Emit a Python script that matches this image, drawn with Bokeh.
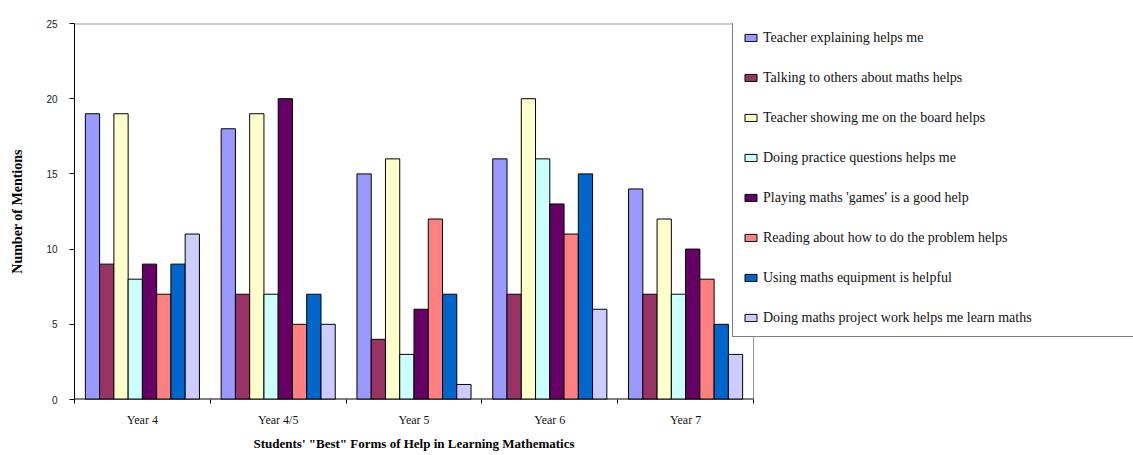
from bokeh.plotting import figure
from bokeh.models import (Range1d, FixedTicker, Legend, LegendItem, ColumnDataSource,
                          CustomJSTickFormatter, Title)
from bokeh.transform import dodge
from bokeh.embed import file_html
from bokeh.resources import INLINE

years = ["Year 4", "Year 4/5", "Year 5", "Year 6", "Year 7"]
series_names = [
    "Teacher explaining helps me",
    "Talking to others about maths helps",
    "Teacher showing me on the board helps",
    "Doing practice questions helps me",
    "Playing maths 'games' is a good help",
    "Reading about how to do the problem helps",
    "Using maths equipment is helpful",
    "Doing maths project work helps me learn maths",
]
teacher_explaining = [19, 18, 15, 16, 14]
talking_to_others = [9, 7, 4, 7, 7]
teacher_board = [19, 19, 16, 20, 12]
practice_questions = [8, 7, 3, 16, 7]
maths_games = [9, 20, 6, 13, 10]
reading_problem = [7, 5, 12, 11, 8]
maths_equipment = [9, 7, 7, 15, 5]
project_work = [11, 5, 1, 6, 3]
colors = ["#9999FF", "#993366", "#FFFFCC", "#CCFFFF", "#660066", "#FF8080", "#0066CC", "#CCCCFF"]
y_ticks = [0, 5, 10, 15, 20, 25]
y_max = 25

series_values = [teacher_explaining, talking_to_others, teacher_board, practice_questions,
                 maths_games, reading_problem, maths_equipment, project_work]

n_cat = len(years)
xc = [i + 0.5 for i in range(n_cat)]
data = {"xc": xc}
for j, vals in enumerate(series_values):
    data[f"s{j}"] = vals
source = ColumnDataSource(data)

# layout (pixels)
W, H = 1133, 455
left, top, bottom = 74, 23, 55
plot_right = 753          # right edge of the visible plot area
frame_w = W - left
x_end = n_cat * frame_w / (plot_right - left)

p = figure(width=W, height=H,
           min_border_left=left, min_border_top=top, min_border_right=0, min_border_bottom=bottom,
           x_range=Range1d(0, x_end), y_range=Range1d(0, y_max),
           output_backend="svg", toolbar_location=None,
           background_fill_color="white", border_fill_color="white")

bw = 0.105
n = len(series_values)
items = []
for j in range(n):
    r = p.vbar(x=dodge("xc", (j - (n - 1) / 2) * bw), top=f"s{j}", width=bw,
               source=source, fill_color=colors[j], line_color="black", line_width=1)
    items.append(LegendItem(label=series_names[j], renderers=[r]))

# plot-area border: gray top and right, black bottom axis line
p.segment(x0=[0], y0=[y_max], x1=[n_cat], y1=[y_max], line_color="#9a9a9a", line_width=2)
p.segment(x0=[n_cat], y0=[0], x1=[n_cat], y1=[y_max], line_color="#9a9a9a", line_width=1)
p.segment(x0=[0], y0=[0], x1=[n_cat], y1=[0], line_color="black", line_width=2)

p.xgrid.visible = False
p.ygrid.visible = False
p.outline_line_color = None

# x axis
xa = p.xaxis[0]
xa.ticker = FixedTicker(ticks=xc, minor_ticks=list(range(n_cat + 1)))
xa.formatter = CustomJSTickFormatter(args=dict(labels=years),
                                     code="return labels[Math.floor(tick)];")
xa.axis_line_color = None
xa.major_tick_out = 0
xa.major_tick_in = 0
xa.minor_tick_out = 4
xa.minor_tick_in = 0
xa.minor_tick_line_color = "black"
xa.major_label_standoff = 9
xa.major_label_text_font = "Liberation Serif"
xa.major_label_text_font_size = "12px"
xa.major_label_text_color = "#111111"

title_width_est = 321
xtitle = Title(text="Students' \"Best\" Forms of Help in Learning Mathematics",
               align="left", offset=(left + plot_right) / 2 - title_width_est / 2 - left,
               text_font="Liberation Serif", text_font_size="13px", text_font_style="bold",
               text_color="black", standoff=9)
p.add_layout(xtitle, "below")

# y axis
ya = p.yaxis[0]
ya.ticker = FixedTicker(ticks=y_ticks)
ya.major_tick_out = 5
ya.major_tick_in = 0
ya.minor_tick_line_color = None
ya.axis_line_color = "black"
ya.major_label_standoff = 12
ya.major_label_text_font = "Liberation Sans"
ya.major_label_text_font_size = "10px"
ya.major_label_text_color = "#222222"
ya.axis_label = "Number of Mentions"
ya.axis_label_text_font = "Liberation Serif"
ya.axis_label_text_font_size = "14px"
ya.axis_label_text_font_style = "bold"
ya.axis_label_text_color = "black"
ya.axis_label_standoff = 18

legend = Legend(items=items, location=(732 - left, 400 - 338), margin=0,
                label_text_font="Liberation Serif", label_text_font_size="14px",
                label_text_color="#111111",
                glyph_width=15, glyph_height=9, label_height=17, spacing=23,
                padding=10, label_standoff=5, label_width=420,
                border_line_color="black", border_line_width=1,
                background_fill_color="white", background_fill_alpha=1.0)
p.add_layout(legend)

open("out.html", "w").write(file_html(p, INLINE))
